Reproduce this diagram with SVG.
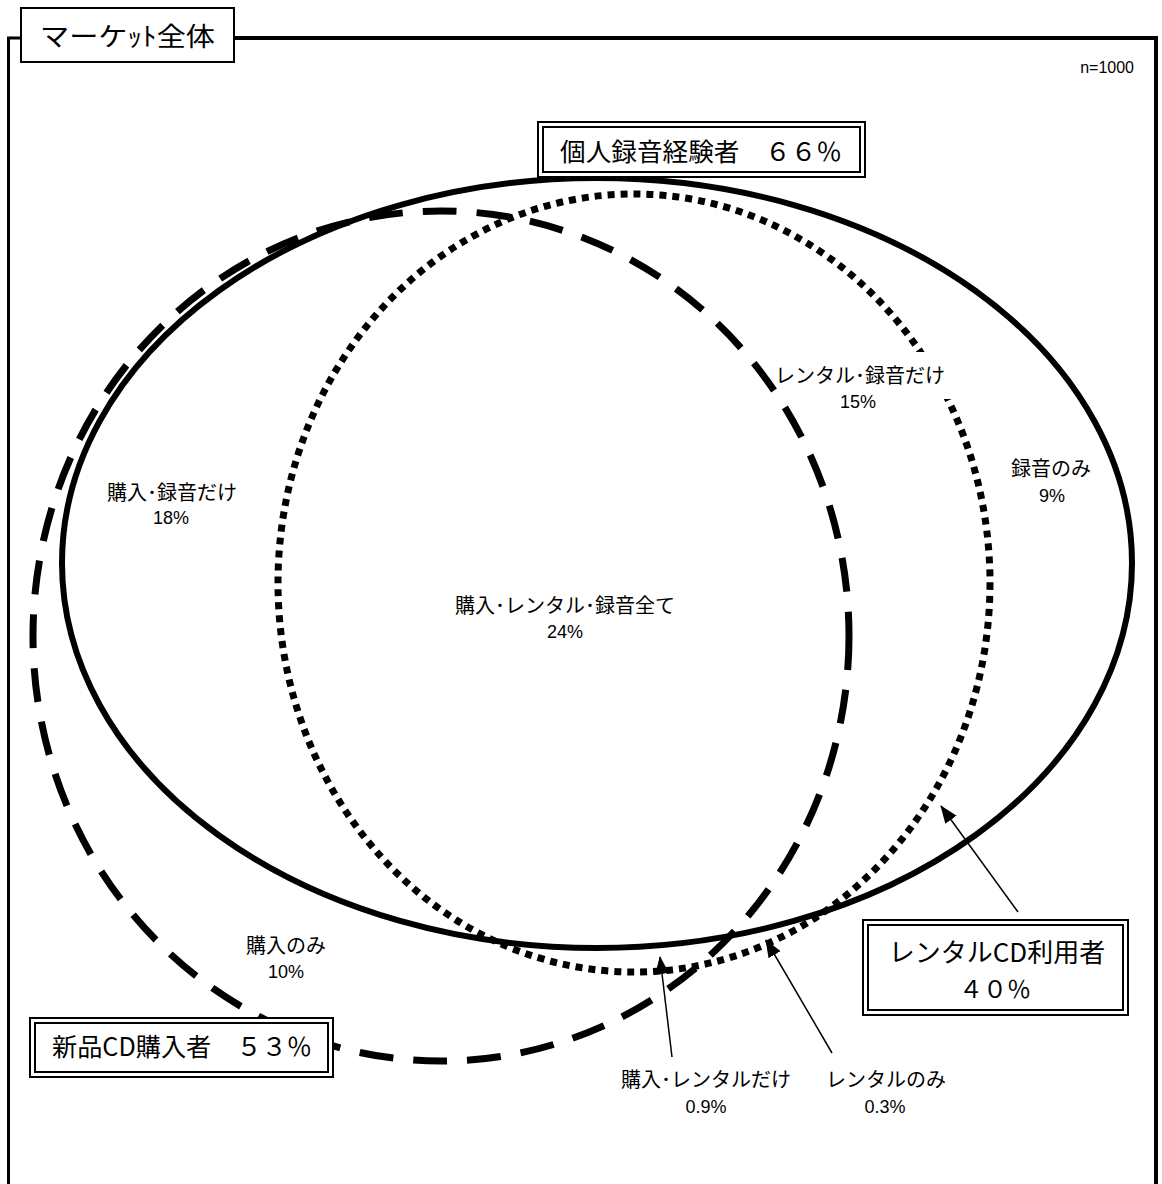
<svg xmlns="http://www.w3.org/2000/svg" width="1162" height="1184" viewBox="0 0 1162 1184">
<defs>
<style>
.jp{font-family:"Noto Sans CJK JP","Liberation Sans",sans-serif;fill:#000}
.lb{font-family:"Noto Sans CJK JP","Liberation Sans",sans-serif;font-size:20px;text-anchor:middle;fill:#000}
.pc{font-family:"Liberation Sans","Noto Sans CJK JP",sans-serif;font-size:18px;text-anchor:middle;fill:#000}
.bx{fill:#fff;stroke:#000;stroke-width:2}
.bi{fill:none;stroke:#000;stroke-width:2}
.ar{stroke:#000;stroke-width:1.5;fill:none;marker-end:url(#ah)}
</style>
<marker id="ah" viewBox="0 0 18 14" refX="17" refY="7" markerWidth="18" markerHeight="14" markerUnits="userSpaceOnUse" orient="auto">
<path d="M0,0 L18,7 L0,14 z" fill="#000"/>
</marker>
</defs>
<rect width="1162" height="1184" fill="#fff"/>
<g id="frame">
<path d="M8.5,1184 V38 H21" fill="none" stroke="#000" stroke-width="3"/>
<path d="M234,38 H1156 V1184" fill="none" stroke="#000" stroke-width="4"/>
</g>
<g id="sets">
<ellipse id="rental-set" cx="634" cy="583" rx="356" ry="389" fill="none" stroke="#000" stroke-width="7" stroke-dasharray="7 6"/>
<rect x="902" y="352" width="72" height="47" fill="#fff"/>
<ellipse id="purchase-set" cx="441" cy="636" rx="408" ry="425" fill="none" stroke="#000" stroke-width="7" stroke-dasharray="34 20"/>
<ellipse id="record-set" cx="597" cy="563" rx="535" ry="385" fill="none" stroke="#000" stroke-width="6"/>
</g>
<g id="connectors">
<line class="ar" x1="1018" y1="912" x2="941" y2="806"/>
<line class="ar" x1="832" y1="1053" x2="766" y2="940"/>
<line class="ar" x1="672" y1="1057" x2="660" y2="957"/>
</g>
<g id="market-box">
<rect class="bx" x="21" y="8" width="213" height="54"/>
<text class="jp" x="40" y="46" font-size="26" textLength="175" lengthAdjust="spacingAndGlyphs">マーケｯﾄ全体</text>
</g>
<text class="pc" x="1134" y="73" style="text-anchor:end;font-size:16px">n=1000</text>
<g id="record-box">
<rect class="bx" x="538" y="122" width="327" height="55"/>
<rect class="bi" x="543" y="127" width="317" height="45"/>
<text class="jp" x="560" y="161" font-size="25" textLength="282" lengthAdjust="spacingAndGlyphs">個人録音経験者　６６％</text>
</g>
<g id="rental-box">
<rect class="bx" x="863" y="920" width="265" height="95"/>
<rect class="bi" x="868" y="925" width="255" height="85"/>
<text class="jp" x="997" y="962" font-size="26" text-anchor="middle">レンタルCD利用者</text>
<text class="jp" x="995" y="998" font-size="24" text-anchor="middle">４０％</text>
</g>
<g id="purchase-box">
<rect class="bx" x="30" y="1018" width="303" height="59"/>
<rect class="bi" x="35" y="1023" width="293" height="49"/>
<text class="jp" x="52" y="1056" font-size="25" textLength="260" lengthAdjust="spacingAndGlyphs">新品CD購入者　５３％</text>
</g>
<g id="region-labels">
<text class="lb" x="860" y="383">レンタル･録音だけ</text>
<text class="pc" x="858" y="408">15%</text>
<text class="lb" x="1051" y="476">録音のみ</text>
<text class="pc" x="1052" y="502">9%</text>
<text class="lb" x="172" y="500">購入･録音だけ</text>
<text class="pc" x="171" y="524">18%</text>
<text class="lb" x="565" y="613">購入･レンタル･録音全て</text>
<text class="pc" x="565" y="638">24%</text>
<text class="lb" x="286" y="953">購入のみ</text>
<text class="pc" x="286" y="978">10%</text>
<text class="lb" x="706" y="1087">購入･レンタルだけ</text>
<text class="pc" x="706" y="1113">0.9%</text>
<text class="lb" x="886" y="1087">レンタルのみ</text>
<text class="pc" x="885" y="1113">0.3%</text>
</g>
</svg>
